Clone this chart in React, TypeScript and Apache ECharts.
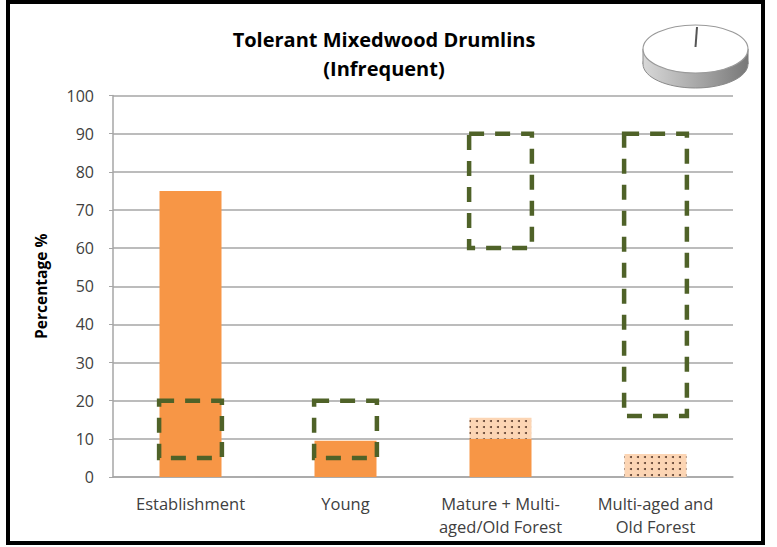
import React, { useEffect, useRef } from "react";
import * as echarts from "echarts";

const categories = ["Establishment", "Young", "Mature + Multi-\naged/Old Forest", "Multi-aged and\nOld Forest"];
const solidValues = [75, 9.5, 10, 0];
const dottedValues = [0, 0, 5.5, 6];
const rangeLow = [5, 5, 60, 16];
const rangeHigh = [20, 20, 90, 90];
const yTicks = [0, 10, 20, 30, 40, 50, 60, 70, 80, 90, 100];

const FONT = "'Open Sans', 'Noto Sans', sans-serif";

export default function App() {
  const ref = useRef<HTMLDivElement>(null);
  useEffect(() => {
    if (!ref.current) return;
    const chart = echarts.init(ref.current, undefined, { renderer: "svg" });
    const rangeData = categories.map((_, i) => [i, rangeLow[i], rangeHigh[i]]);
    const cx = 695.5, cy = 49, rx = 52.5, ry = 24, th = 15;
    const sideFill = new echarts.graphic.LinearGradient(0, 0, 1, 0, [
      { offset: 0, color: "#d8d8d8" },
      { offset: 0.6, color: "#a0a0a0" },
      { offset: 1, color: "#787878" },
    ]);
    chart.setOption({
      animation: false,
      backgroundColor: "#ffffff",
      title: {
        text: "Tolerant Mixedwood Drumlins\n(Infrequent)",
        left: 379,
        top: 20.5,
        textAlign: "center",
        textStyle: {
          fontFamily: FONT,
          fontSize: 20,
          fontWeight: "bold",
          color: "#000000",
          lineHeight: 28.5,
        },
      },
      grid: { left: 113, right: 44, top: 95.5, bottom: 70 },
      xAxis: {
        type: "category",
        data: categories,
        axisTick: { show: false },
        axisLine: { lineStyle: { color: "#a6a6a6", width: 1.5 } },
        axisLabel: {
          fontFamily: FONT,
          fontSize: 16.5,
          color: "#404040",
          lineHeight: 23,
          margin: 15,
          interval: 0,
        },
      },
      yAxis: {
        type: "value",
        min: 0,
        max: 100,
        interval: 10,
        name: "Percentage %",
        nameLocation: "middle",
        nameGap: 64,
        nameRotate: 90,
        nameTextStyle: {
          fontFamily: FONT,
          fontSize: 15.5,
          fontWeight: "bold",
          color: "#000000",
        },
        axisLine: { show: true, lineStyle: { color: "#a6a6a6", width: 1.5 } },
        axisTick: { show: true, length: 4, lineStyle: { color: "#a6a6a6" } },
        splitLine: { lineStyle: { color: "#a6a6a6", width: 1.5 } },
        axisLabel: {
          fontFamily: FONT,
          fontSize: 16,
          color: "#404040",
          margin: 19,
          formatter: (v: number) => (yTicks.includes(v) ? String(v) : ""),
        },
      },
      series: [
        {
          type: "bar",
          stack: "a",
          data: solidValues,
          barWidth: 62,
          itemStyle: { color: "#f79646" },
        },
        {
          type: "bar",
          stack: "a",
          data: dottedValues,
          barWidth: 62,
          itemStyle: {
            color: "#fcd5b4",
            decal: {
              symbol: "circle",
              symbolSize: 1,
              color: "#5e4030",
              dashArrayX: [2, 5],
              dashArrayY: [2, 3.5],
              rotation: 0,
            },
          },
        },
        {
          type: "custom",
          data: rangeData,
          z: 5,
          renderItem: (params: any, api: any) => {
            const idx = api.value(0);
            const lo = api.coord([idx, api.value(1)]);
            const hi = api.coord([idx, api.value(2)]);
            const w = api.size([1, 0])[0] * 0.405;
            return {
              type: "rect",
              shape: { x: lo[0] - w / 2, y: hi[1], width: w, height: lo[1] - hi[1] },
              style: {
                fill: "none",
                stroke: "#4f6228",
                lineWidth: 4.5,
                lineDash: [15, 11],
              },
            };
          },
        },
      ],
      graphic: [
        {
          type: "rect",
          shape: { x: 8, y: 2, width: 755, height: 541 },
          style: { fill: "none", stroke: "#000000", lineWidth: 4 },
          silent: true,
        },
        {
          type: "group",
          children: [
            {
              type: "ellipse",
              shape: { cx, cy: cy + th, rx, ry },
              style: { fill: sideFill, stroke: "#8a8a8a", lineWidth: 1 },
            },
            {
              type: "rect",
              shape: { x: cx - rx, y: cy, width: rx * 2, height: th },
              style: { fill: sideFill },
            },
            {
              type: "line",
              shape: { x1: cx - rx, y1: cy, x2: cx - rx, y2: cy + th },
              style: { stroke: "#8a8a8a", lineWidth: 1 },
            },
            {
              type: "line",
              shape: { x1: cx + rx, y1: cy, x2: cx + rx, y2: cy + th },
              style: { stroke: "#787878", lineWidth: 1 },
            },
            {
              type: "ellipse",
              shape: { cx, cy, rx, ry },
              style: { fill: "#ffffff", stroke: "#9a9a9a", lineWidth: 1.2 },
            },
            {
              type: "line",
              shape: { x1: cx, y1: cy - 2, x2: cx + 1.5, y2: cy - ry + 2 },
              style: { stroke: "#555555", lineWidth: 2 },
            },
          ],
        },
      ],
    });
    return () => chart.dispose();
  }, []);
  return (
    <div
      ref={ref}
      style={{ position: "fixed", left: 0, top: 0, width: 777, height: 547 }}
    />
  );
}
